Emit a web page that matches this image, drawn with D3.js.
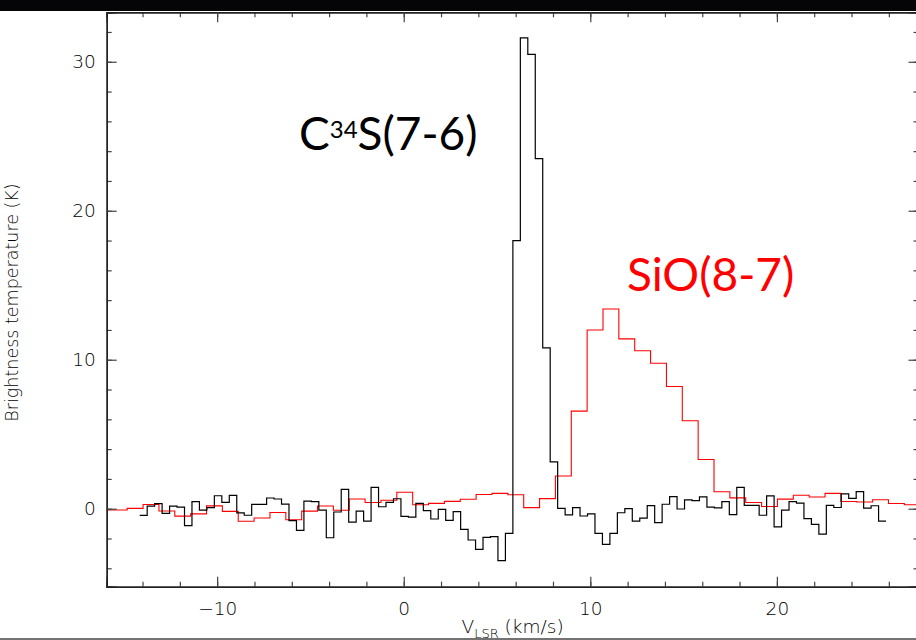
<!DOCTYPE html>
<html>
<head>
<meta charset="utf-8">
<script src="https://cdn.jsdelivr.net/npm/d3@7"></script>
<style>
  body { margin: 0; background: #fff; }
  svg { display: block; overflow: hidden; }
  .tick text { font-family: "DejaVu Sans", sans-serif; font-weight: 200; fill: #000; }
</style>
</head>
<body>
<div id="chart"></div>
<script>
// C34S(7-6) spectrum: 100 channels, 0.4 km/s wide, starting at -14.15 km/s
var c34sStart = -14.15;
var c34sWidth = 0.4;
var c34sValues = [
  -0.45, 0.17, 0.34, -0.31, 0.18, 0.11, -1.13, 0.47, -0.09, 0.07,
  0.87, 0.43, 0.9, -0.28, -0.44, 0.29, 0.29, 0.72, 0.65, 0.31,
  -0.8, -1.45, 0.51, 0.47, -0.1, -1.95, -0.22, 1.3, -0.9, -0.16,
  -0.83, 1.43, 0.13, 0.43, 0.67, -0.51, -0.56, 0.36, -0.13, -0.69,
  -0.04, -0.78, -0.2, -1.39, -2.1, -2.73, -1.92, -1.88, -3.49, -1.66,
  18.0, 31.6, 30.5, 23.5, 10.8, 3.15, 0.02, -0.42, 0.07, -0.49,
  -0.35, -1.65, -2.4, -1.65, -0.27, 0.0, -0.83, -0.63, 0.21, -0.93,
  0.3, 0.81, -0.02, 0.59, 0.54, 0.79, 0.11, 0.05, 0.47, -0.4,
  1.43, 0.22, 0.23, -0.44, 0.86, -1.22, -0.09, 0.47, 0.38, -0.66,
  -1.05, -1.71, 0.23, 0.08, 1.0, 0.7, 1.15, 0.04, 0.2, -0.84
];

// SiO(8-7) spectrum: 52 channels, 0.85 km/s wide, starting at -16.52 km/s
var sioStart = -16.52;
var sioWidth = 0.85;
var sioValues = [
  -0.09, -0.09, 0.02, 0.28, -0.15, -0.5, -0.35, 0.19, -0.18, -0.84,
  -0.62, -0.25, -0.74, -0.16, 0.18, -0.1, 0.65, 0.42, 0.57, 1.1,
  0.27, 0.36, 0.49, 0.63, 0.95, 1.03, 0.94, 0.07, 0.68, 2.2,
  6.55, 12.0, 13.4, 11.4, 10.6, 9.76, 8.2, 5.9, 3.3, 1.14,
  0.73, 0.42, 0.15, 0.64, 0.9, 0.79, 1.03, 0.48, 0.45, 0.6,
  0.35, 0.27
];

var xMajor = [-10, 0, 10, 20];
var yMajor = [0, 10, 20, 30];
var xDomain = [-15.92, 27.59];
var yDomain = [-5.235, 33.32];

var width = 916, height = 640;
var plot = { left: 106.7, right: 918.5, top: 12.3, bottom: 586.7 };

var svg = d3.select("#chart").append("svg")
  .attr("width", width)
  .attr("height", height);

// dark band at the top of the window and line at the bottom
svg.append("rect")
  .attr("x", 0).attr("y", 0)
  .attr("width", width).attr("height", 11)
  .attr("fill", "#050508");
svg.append("line")
  .attr("x1", 0).attr("x2", width)
  .attr("y1", 639).attr("y2", 639)
  .attr("stroke", "#444").attr("stroke-width", 1.5);

var x = d3.scaleLinear().domain(xDomain).range([plot.left, plot.right]);
var y = d3.scaleLinear().domain(yDomain).range([plot.bottom, plot.top]);

function minorTicks(domain, step) {
  return d3.range(Math.ceil(domain[0] / step) * step, domain[1], step);
}

function drawAxes() {
  var xMinor = minorTicks(xDomain, 2);
  var yMinor = minorTicks(yDomain, 2);

  // bottom
  svg.append("g")
    .attr("transform", "translate(0," + plot.bottom + ")")
    .call(d3.axisBottom(x).tickValues(xMinor).tickSize(-5).tickFormat(""));
  svg.append("g")
    .attr("class", "x axis")
    .attr("transform", "translate(0," + plot.bottom + ")")
    .call(d3.axisBottom(x).tickValues(xMajor).tickSize(-10).tickPadding(15)
      .tickFormat(d => d < 0 ? "\u2212" + Math.abs(d) : d));
  // top
  svg.append("g")
    .attr("transform", "translate(0," + plot.top + ")")
    .call(d3.axisTop(x).tickValues(xMinor).tickSize(-5).tickFormat(""));
  svg.append("g")
    .attr("transform", "translate(0," + plot.top + ")")
    .call(d3.axisTop(x).tickValues(xMajor).tickSize(-10).tickFormat(""));
  // left
  svg.append("g")
    .attr("transform", "translate(" + plot.left + ",0)")
    .call(d3.axisLeft(y).tickValues(yMinor).tickSize(-5).tickFormat(""));
  svg.append("g")
    .attr("class", "y axis")
    .attr("transform", "translate(" + plot.left + ",0)")
    .call(d3.axisLeft(y).tickValues(yMajor).tickSize(-10).tickPadding(11));
  // right
  svg.append("g")
    .attr("transform", "translate(" + plot.right + ",0)")
    .call(d3.axisRight(y).tickValues(yMinor).tickSize(-5).tickFormat(""));
  svg.append("g")
    .attr("transform", "translate(" + plot.right + ",0)")
    .call(d3.axisRight(y).tickValues(yMajor).tickSize(-10).tickFormat(""));

  svg.selectAll(".domain").attr("stroke", "#222").attr("stroke-width", 1.4);
  svg.selectAll(".tick line").attr("stroke", "#444").attr("stroke-width", 1.2);
  svg.selectAll(".tick text").attr("font-size", 18.5);

  // axis titles
  var xt = svg.append("text")
    .attr("x", (plot.left + plot.right) / 2)
    .attr("y", 633)
    .attr("text-anchor", "middle")
    .attr("font-family", "DejaVu Sans, sans-serif")
    .attr("font-weight", 200)
    .attr("font-size", 18.5)
    .attr("fill", "#000");
  xt.append("tspan").text("V");
  xt.append("tspan").attr("font-size", 13).attr("dy", 5).text("LSR");
  xt.append("tspan").attr("dy", -5).text(" (km/s)");

  svg.append("text")
    .attr("transform", "translate(18," + ((plot.top + plot.bottom) / 2 + 3) + ") rotate(-90)")
    .attr("text-anchor", "middle")
    .attr("font-family", "DejaVu Sans, sans-serif")
    .attr("font-weight", 200)
    .attr("font-size", 17.5)
    .attr("fill", "#000")
    .text("Brightness temperature (K)");
}

function stepPoints(start, step, values) {
  var pts = values.map((v, i) => [start + i * step, v]);
  pts.push([start + values.length * step, values[values.length - 1]]);
  return pts;
}

function drawSpectra() {
  svg.append("clipPath").attr("id", "plot-clip")
    .append("rect")
      .attr("x", plot.left).attr("y", plot.top)
      .attr("width", plot.right - plot.left)
      .attr("height", plot.bottom - plot.top);

  var line = d3.line()
    .x(d => x(d[0]))
    .y(d => y(d[1]))
    .curve(d3.curveStepAfter);

  var g = svg.append("g").attr("clip-path", "url(#plot-clip)");

  g.append("path")
    .datum(stepPoints(sioStart, sioWidth, sioValues))
    .attr("d", line)
    .attr("fill", "none")
    .attr("stroke", "#ff0000")
    .attr("stroke-width", 1.1);

  g.append("path")
    .datum(stepPoints(c34sStart, c34sWidth, c34sValues))
    .attr("d", line)
    .attr("fill", "none")
    .attr("stroke", "#000")
    .attr("stroke-width", 1.2);
}

function drawLabels() {
  var c = svg.append("text")
    .attr("x", 299)
    .attr("y", 150)
    .attr("font-family", "Lato, Noto Sans, sans-serif")
    .attr("font-size", 46)
    .attr("fill", "#000");
  c.append("tspan").text("C");
  c.append("tspan").attr("font-size", 24).attr("dy", -12).text("34");
  c.append("tspan").attr("dy", 12).text("S(7-6)");

  svg.append("text")
    .attr("x", 627)
    .attr("y", 291)
    .attr("font-family", "Lato, Noto Sans, sans-serif")
    .attr("font-size", 46)
    .attr("fill", "#ff0000")
    .text("SiO(8-7)");
}

drawSpectra();
drawAxes();
drawLabels();
</script>
</body>
</html>
